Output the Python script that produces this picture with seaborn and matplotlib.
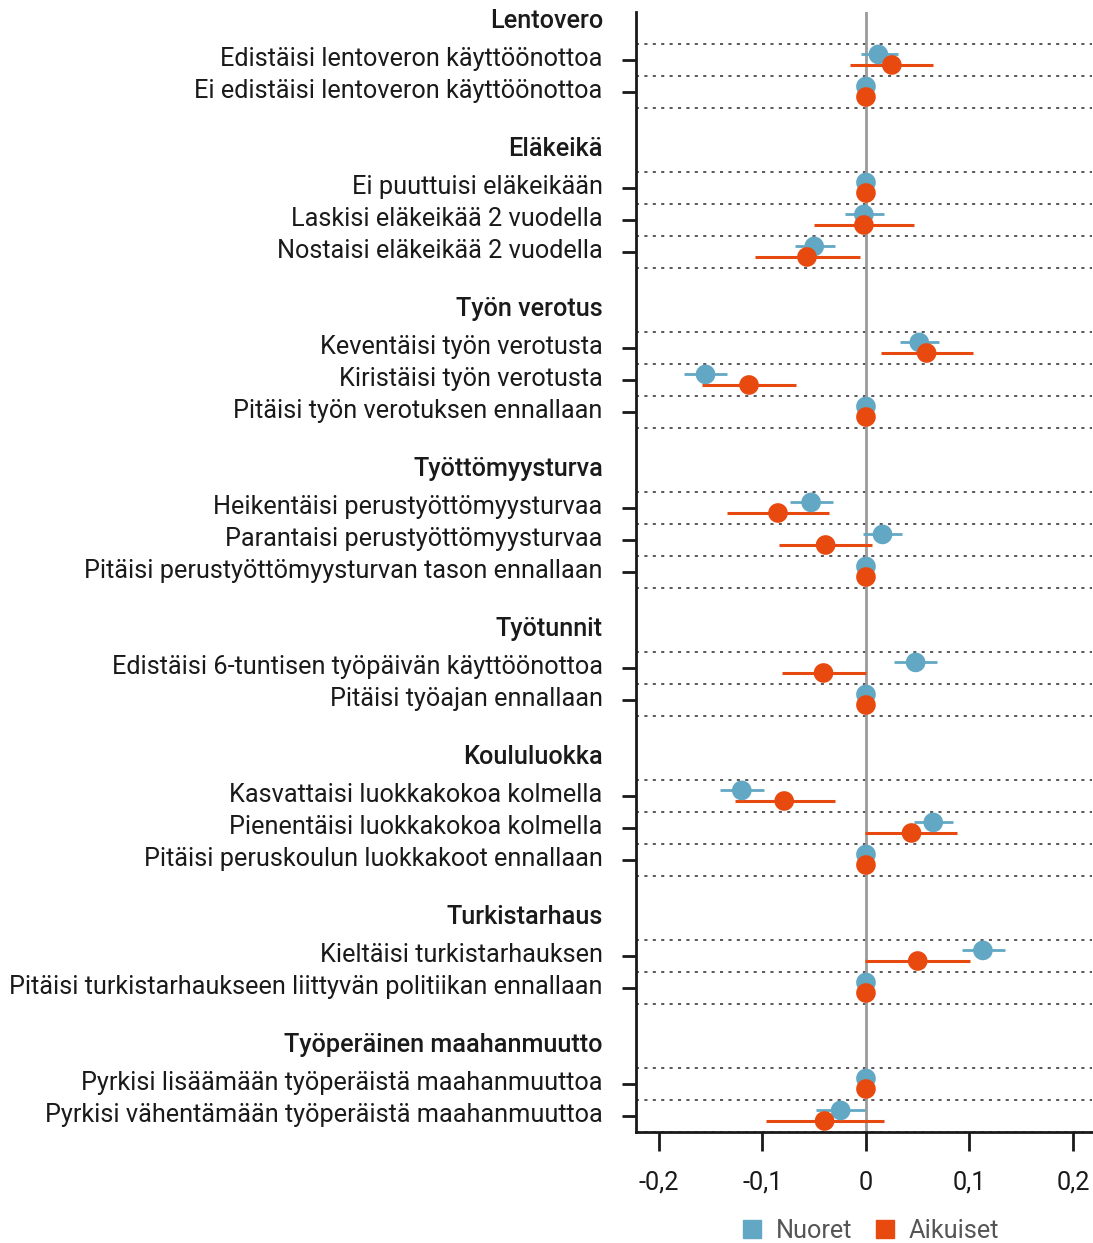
import numpy as np
import pandas as pd
import matplotlib.pyplot as plt
import matplotlib.transforms as mtransforms
import seaborn as sns

# === Data ===
groups = ["Lentovero", "Eläkeikä", "Työn verotus", "Työttömyysturva",
          "Työtunnit", "Koululuokka", "Turkistarhaus", "Työperäinen maahanmuutto"]

labels = [
    ["Edistäisi lentoveron käyttöönottoa", "Ei edistäisi lentoveron käyttöönottoa"],
    ["Ei puuttuisi eläkeikään", "Laskisi eläkeikää 2 vuodella", "Nostaisi eläkeikää 2 vuodella"],
    ["Keventäisi työn verotusta", "Kiristäisi työn verotusta", "Pitäisi työn verotuksen ennallaan"],
    ["Heikentäisi perustyöttömyysturvaa", "Parantaisi perustyöttömyysturvaa",
     "Pitäisi perustyöttömyysturvan tason ennallaan"],
    ["Edistäisi 6-tuntisen työpäivän käyttöönottoa", "Pitäisi työajan ennallaan"],
    ["Kasvattaisi luokkakokoa kolmella", "Pienentäisi luokkakokoa kolmella",
     "Pitäisi peruskoulun luokkakoot ennallaan"],
    ["Kieltäisi turkistarhauksen", "Pitäisi turkistarhaukseen liittyvän politiikan ennallaan"],
    ["Pyrkisi lisäämään työperäistä maahanmuuttoa", "Pyrkisi vähentämään työperäistä maahanmuuttoa"],
]

nuoret_est = [0.012, 0, 0, -0.002, -0.050, 0.0515, -0.155, 0, -0.053, 0.016, 0,
              0.048, 0, -0.120, 0.065, 0, 0.113, 0, 0, -0.0245]
nuoret_lo = [-0.005, 0, 0, -0.020, -0.069, 0.033, -0.176, 0, -0.073, -0.003, 0,
             0.027, 0, -0.141, 0.046, 0, 0.0925, 0, 0, -0.048]
nuoret_hi = [0.031, 0, 0, 0.017, -0.030, 0.071, -0.134, 0, -0.032, 0.035, 0,
             0.069, 0, -0.099, 0.084, 0, 0.134, 0, 0, -0.001]

aikuiset_est = [0.025, 0, 0, -0.002, -0.057, 0.0586, -0.113, 0, -0.085, -0.039, 0,
                -0.041, 0, -0.079, 0.044, 0, 0.050, 0, 0, -0.040]
aikuiset_lo = [-0.015, 0, 0, -0.050, -0.107, 0.015, -0.158, 0, -0.134, -0.084, 0,
               -0.081, 0, -0.127, -0.001, 0, -0.001, 0, 0, -0.097]
aikuiset_hi = [0.065, 0, 0, 0.046, -0.006, 0.103, -0.068, 0, -0.036, 0.006, 0,
               0.000, 0, -0.030, 0.088, 0, 0.101, 0, 0, 0.017]

series = ["Nuoret", "Aikuiset"]
colors = {"Nuoret": "#62a8c4", "Aikuiset": "#e8490f"}

# === Row positions: groups separated by three units ===
ypos, ylab, header_pos, group_start = [], [], [], []
pos = 0
for g, labs in zip(groups, labels):
    header_pos.append(pos - 1.2)
    group_start.append(pos)
    for lab in labs:
        ypos.append(pos)
        ylab.append(lab)
        pos += 1
    pos += 2

rows = []
for name, est, lo, hi, off in [("Nuoret", nuoret_est, nuoret_lo, nuoret_hi, -0.165),
                               ("Aikuiset", aikuiset_est, aikuiset_lo, aikuiset_hi, 0.165)]:
    for y, e, l, h in zip(ypos, est, lo, hi):
        rows.append({"series": name, "y": y + off, "est": e, "lo": l, "hi": h})
df = pd.DataFrame(rows)

# === Plot ===
sns.set_style("ticks")
plt.rcParams["font.family"] = ["Roboto", "DejaVu Sans"]
FS = 18.2
INK = "#1a1a1a"

fig = plt.figure(figsize=(10.93, 12.43), dpi=100)
ax = fig.add_axes([636 / 1093, 1 - 1131.7 / 1243, 456 / 1093, 1120 / 1243])

# dotted separators around each row
for labs, start in zip(labels, group_start):
    for k in range(len(labs) + 1):
        ax.axhline(start - 0.5 + k, color="#2a2a2a", lw=1.1, ls=(0, (2, 3.5)), zorder=1)

ax.axvline(0, color="#9a9a9a", lw=2, zorder=2)

for name in series:
    sub = df[df["series"] == name]
    ax.hlines(sub["y"], sub["lo"], sub["hi"], color=colors[name],
              lw=2.2 if name == "Aikuiset" else 2.0, zorder=3)
    sns.scatterplot(data=sub, x="est", y="y", color=colors[name], s=200,
                    edgecolor="none", linewidth=0, ax=ax, zorder=4)

ax.set_xlim(-0.2222, 0.2184)
ax.set_ylim(33.5, -1.5)
ax.set_yticks(ypos)
ax.set_yticklabels(ylab, fontsize=FS, color=INK)
ax.set_xticks([-0.2, -0.1, 0, 0.1, 0.2])
ax.set_xticklabels(["-0,2", "-0,1", "0", "0,1", "0,2"], fontsize=FS, color=INK)
ax.tick_params(axis="y", length=10, width=2, pad=14, color=INK)
ax.tick_params(axis="x", length=14, width=2, pad=14, color=INK)
ax.set_xlabel("")
ax.set_ylabel("")

# labels sit slightly above their tick marks
shift = mtransforms.ScaledTranslation(0, 3 / 100, fig.dpi_scale_trans)
for t in ax.get_yticklabels():
    t.set_transform(t.get_transform() + shift)

for g, hp in zip(groups, header_pos):
    ax.annotate(g, xy=(0, hp), xycoords=("axes fraction", "data"),
                xytext=(-33, 0), textcoords="offset pixels",
                ha="right", va="center", fontsize=FS, fontweight="medium", color=INK)

for side in ["top", "right"]:
    ax.spines[side].set_visible(False)
for side in ["left", "bottom"]:
    ax.spines[side].set_linewidth(2)
    ax.spines[side].set_color(INK)

handles = [plt.Line2D([], [], marker="s", ls="", markersize=12.5, color=colors[s]) for s in series]
leg = fig.legend(handles, series, loc="center", bbox_to_anchor=(868 / 1093, 1 - 1231 / 1243),
                 ncol=2, frameon=False, fontsize=FS, handletextpad=0.35, columnspacing=0.7,
                 handlelength=1.2)
for t in leg.get_texts():
    t.set_color("#555555")

fig.savefig("out.png", dpi=100)
plt.close()
